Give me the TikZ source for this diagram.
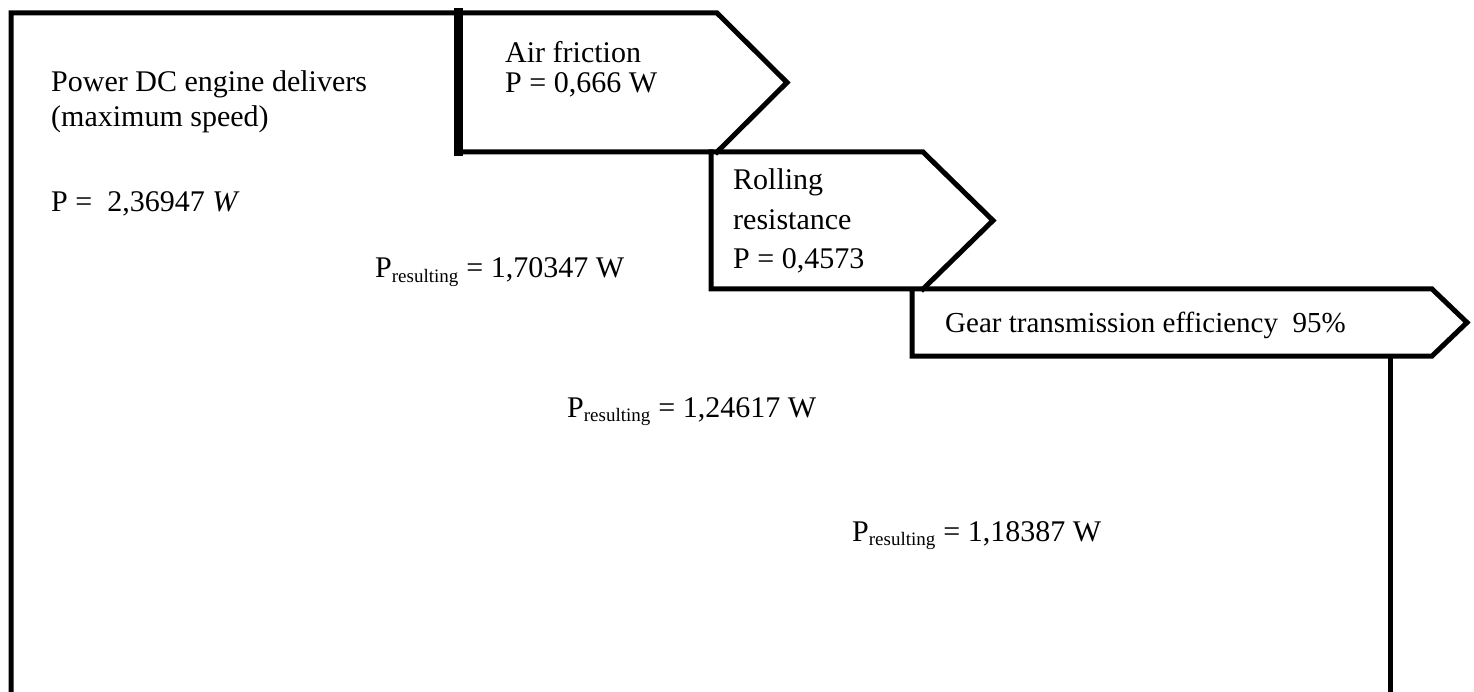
\documentclass[tikz,border=0pt]{standalone}
\usepackage{fontspec}
\setmainfont{Liberation Serif}
\tikzset{
  outline/.style={line width=5pt, line join=miter, line cap=rect},
  thickside/.style={line width=9pt, line cap=rect},
  lbl/.style={anchor=base west, inner sep=0pt, align=left},
}
\newcommand{\lblfont}[2]{\fontsize{#1}{#2}\selectfont}
\newcommand{\Pres}{P\textsubscript{\fontsize{19}{19}\selectfont resulting}}
\begin{document}
\begin{tikzpicture}[x=1pt,y=-1pt]
\useasboundingbox (0,0) rectangle (1474,692);
% shapes
\draw[outline] (11,700) -- (11,13) -- (717,13) -- (787,82.5) -- (717,152);
\draw[thickside] (458,13) -- (458,152);
\draw[outline] (458,152) -- (923,152) -- (993,220.5) -- (923,289);
\draw[outline] (711,152) -- (711,289) -- (1432,289) -- (1467,322.5) -- (1432,356) -- (912,356) -- (912,289);
\draw[outline] (1390,356) -- (1390,700);
% texts (base anchor = baseline of the last line)
\node[lbl, font=\lblfont{30}{35}] (engine) at (51,127) {Power DC engine delivers\\(maximum speed)};
\node[lbl, font=\lblfont{30}{35}] (enginep) at (51,212) {P =\ \ 2,36947 \textit{W}};
\node[lbl, font=\lblfont{30}{30}] (air) at (505,93) {Air friction\\P = 0,666 W};
\node[lbl, font=\lblfont{30}{39.5}] (roll) at (733,269) {Rolling\\resistance\\P = 0,4573};
\node[lbl, font=\lblfont{29}{35}] (gear) at (945,333) {Gear transmission efficiency\ \ 95\%};
\node[lbl, font=\lblfont{30}{35}] (res1) at (375,278) {\Pres{} = 1,70347 W};
\node[lbl, font=\lblfont{30}{35}] (res2) at (567,417) {\Pres{} = 1,24617 W};
\node[lbl, font=\lblfont{30}{35}] (res3) at (852,541) {\Pres{} = 1,18387 W};
\end{tikzpicture}
\end{document}
